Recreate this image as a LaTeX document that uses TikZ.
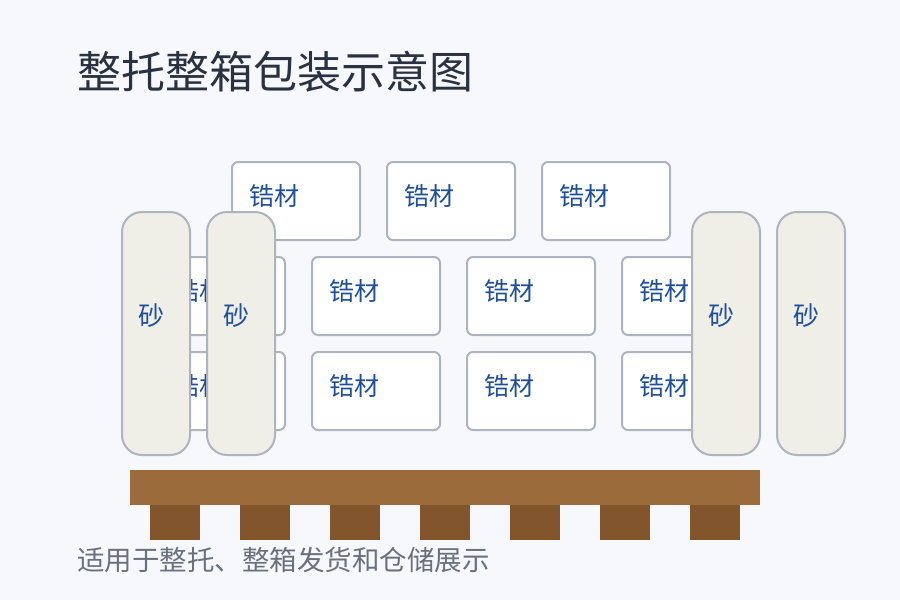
\documentclass[tikz,border=0pt]{standalone}
\usepackage{fontspec}
\newfontfamily\cjk{Noto Sans CJK SC}
\begin{document}
\begin{tikzpicture}[x=1pt,y=-1pt,
 box/.style={draw=bord,line width=2pt,fill=white,rounded corners=6pt,minimum width=128pt,minimum height=78pt,anchor=north west},
 lbl/.style={anchor=west,text=lblc,font=\cjk\fontsize{25}{25}\selectfont,inner sep=0},
 sand/.style={draw=bord,line width=2pt,fill=sandc,rounded corners=20pt,minimum width=68pt,minimum height=243pt,anchor=north west},
 sl/.style={text=lblc,font=\cjk\fontsize{26}{26}\selectfont,inner sep=0},
 foot/.style={fill=footc,minimum width=50pt,minimum height=35pt,anchor=north west,inner sep=0pt}]
\definecolor{bg}{HTML}{F7F8FC}
\definecolor{bord}{HTML}{ADB4C0}
\definecolor{lblc}{HTML}{1F4E9C}
\definecolor{sandc}{HTML}{EFEFE8}
\definecolor{palc}{HTML}{9C6B3C}
\definecolor{footc}{HTML}{82552D}
\definecolor{titc}{HTML}{2A3140}
\definecolor{subc}{HTML}{6A707C}
\fill[bg] (0,0) rectangle (900,600);
\useasboundingbox (0,0) rectangle (900,600);
\node[anchor=west,text=titc,font=\cjk\fontsize{44}{44}\selectfont,inner sep=0] (title) at (77,72) {整托整箱包装示意图};
\foreach \x/\n in {231/a,386/b,541/c}{\node[box] (t\n) at (\x,161) {}; \node[lbl] at (\x+18,196) {锆材};}
\foreach \y/\r in {256/m,351/l}{\foreach \x/\n in {156/a,311/b,466/c,621/d}{\node[box] (\r\n) at (\x,\y) {}; \node[lbl] at (\x+18,\y+35) {锆材};}}
\foreach \x/\n in {121/a,206/b,691/c,776/d}{\node[sand] (s\n) at (\x,211) {}; \node[sl] at (\x+30,316) {砂};}
\node[fill=palc,minimum width=630pt,minimum height=35pt,anchor=north west,inner sep=0] (pallet) at (130,470) {};
\foreach \x/\n in {150/a,240/b,330/c,420/d,510/e,600/f,690/g}{\node[foot] (f\n) at (\x,505) {};}
\node[anchor=west,text=subc,font=\cjk\fontsize{27.5}{27.5}\selectfont,inner sep=0] (sub) at (77,560) {适用于整托、整箱发货和仓储展示};
\end{tikzpicture}
\end{document}
